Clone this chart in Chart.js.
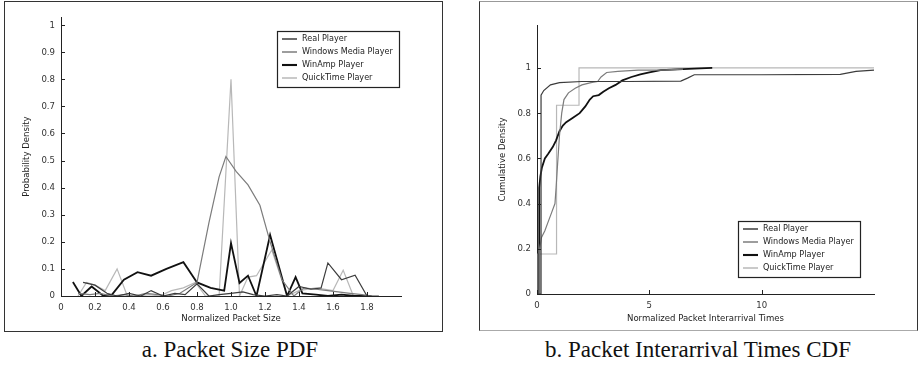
<!DOCTYPE html>
<html>
<head>
<meta charset="utf-8">
<script src="https://cdn.jsdelivr.net/npm/chart.js@4.4.0/dist/chart.umd.min.js"></script>
<style>
  body { margin: 0; width: 918px; height: 367px; background: #fff; position: relative; overflow: hidden; }
  .panel { position: absolute; box-sizing: border-box; background: #fff; }
  #boxA { left: 4px; top: 1px; width: 439px; height: 331px; border: 1.5px solid #333; }
  #boxB { left: 479px; top: 1px; width: 439px; height: 330px; border: 1.5px solid #333; border-top-color: #999; border-bottom-color: #aaa; }
  canvas { position: absolute; left: 0; top: 0; }
  .caption { position: absolute; top: 337px; font-family: "Liberation Serif", "Times New Roman", serif; font-size: 23px; color: #111; white-space: nowrap; transform: translateX(-50%); }
</style>
</head>
<body>
<div class="panel" id="boxA"><canvas id="pdf" width="436" height="328"></canvas></div>
<div class="panel" id="boxB"><canvas id="cdf" width="436" height="327"></canvas></div>
<div class="caption" style="left:230px">a. Packet Size PDF</div>
<div class="caption" style="left:698px">b. Packet Interarrival Times CDF</div>

<script>
const players = ['Real Player', 'Windows Media Player', 'WinAmp Player', 'QuickTime Player'];

// a. packet size PDF
const realSizeX = [0.13, 0.2, 0.27, 0.33, 0.4, 0.47, 0.53, 0.6, 0.67, 0.73, 0.8, 0.87, 0.93, 1.0, 1.07, 1.13, 1.2, 1.27, 1.33, 1.4, 1.47, 1.53, 1.57, 1.65, 1.73, 1.8, 1.87];
const realSizeY = [0.05, 0.04, 0.01, 0, 0.01, 0, 0.02, 0, 0.01, 0.005, 0.045, 0, 0.005, 0.01, 0.015, 0.005, 0, 0.005, 0, 0.035, 0.025, 0.03, 0.122, 0.06, 0.077, 0, 0];
const wmpSizeX = [0.1, 0.17, 0.23, 0.3, 0.37, 0.43, 0.5, 0.57, 0.63, 0.7, 0.8, 0.87, 0.93, 0.97, 1.03, 1.1, 1.17, 1.23, 1.3, 1.37, 1.43, 1.5, 1.57, 1.63, 1.7, 1.77, 1.83];
const wmpSizeY = [0.01, 0.005, 0.01, 0, 0.005, 0, 0.01, 0.005, 0, 0.01, 0.05, 0.27, 0.44, 0.515, 0.46, 0.41, 0.335, 0.2, 0.06, 0, 0.03, 0.025, 0.02, 0.015, 0.01, 0.005, 0];
const winampSizeX = [0.07, 0.12, 0.18, 0.25, 0.3, 0.37, 0.45, 0.53, 0.62, 0.72, 0.8, 0.88, 0.96, 1.0, 1.05, 1.1, 1.15, 1.23, 1.33, 1.38, 1.42, 1.5, 1.57, 1.65, 1.73, 1.82];
const winampSizeY = [0.052, 0, 0.035, 0, 0.005, 0.06, 0.088, 0.075, 0.1, 0.125, 0.05, 0.03, 0.02, 0.195, 0.048, 0.075, 0, 0.225, 0, 0.07, 0.01, 0.005, 0, 0.005, 0, 0];
const qtSizeX = [0.1, 0.15, 0.2, 0.26, 0.33, 0.39, 0.45, 0.52, 0.58, 0.65, 0.72, 0.79, 0.85, 0.93, 1.0, 1.05, 1.1, 1.15, 1.24, 1.33, 1.4, 1.5, 1.6, 1.66, 1.72, 1.8];
const qtSizeY = [0, 0.05, 0.04, 0.02, 0.1, 0, 0, 0.005, 0, 0.02, 0.03, 0.05, 0, 0, 0.8, 0, 0.07, 0.075, 0.17, 0, 0.02, 0.03, 0.02, 0.095, 0, 0];
const sizeXTicks = [0, 0.2, 0.4, 0.6, 0.8, 1, 1.2, 1.4, 1.6, 1.8];
const sizeYTicks = [0, 0.1, 0.2, 0.3, 0.4, 0.5, 0.6, 0.7, 0.8, 0.9, 1];

// b. interarrival CDF
const realTimeX = [0, 0.18, 0.18, 0.3, 0.6, 1.0, 2.0, 4.0, 6.4, 6.7, 7.0, 10, 13.5, 14.2, 15];
const realTimeY = [0, 0, 0.88, 0.9, 0.925, 0.935, 0.94, 0.94, 0.942, 0.955, 0.97, 0.97, 0.972, 0.985, 0.99];
const wmpTimeX = [0.1, 0.12, 0.2, 0.35, 0.5, 0.65, 0.8, 0.85, 0.9, 1.0, 1.1, 1.2, 1.4, 1.7, 2.0, 2.4, 2.7, 2.85, 3.1, 3.6, 4.5, 5.5, 6.5];
const wmpTimeY = [0, 0.2, 0.25, 0.28, 0.32, 0.36, 0.4, 0.47, 0.55, 0.7, 0.8, 0.86, 0.89, 0.91, 0.925, 0.935, 0.94, 0.96, 0.98, 0.985, 0.99, 0.99, 0.995];
const winampTimeX = [0.1, 0.1, 0.15, 0.22, 0.35, 0.5, 0.7, 0.85, 1.0, 1.15, 1.3, 1.6, 1.9, 2.15, 2.35, 2.5, 2.75, 2.95, 3.2, 3.5, 3.8, 4.2, 4.6, 5.0, 5.5, 6.0, 7.0, 7.8];
const winampTimeY = [0, 0.47, 0.52, 0.56, 0.6, 0.62, 0.65, 0.68, 0.72, 0.745, 0.76, 0.78, 0.8, 0.83, 0.86, 0.875, 0.88, 0.895, 0.91, 0.925, 0.945, 0.96, 0.972, 0.98, 0.99, 0.993, 0.997, 1.0];
const qtTimeX = [0.05, 0.05, 0.87, 0.87, 1.87, 1.87, 15];
const qtTimeY = [0, 0.177, 0.177, 0.835, 0.835, 1.0, 1.0];
const timeXTicks = [0, 5, 10];
const timeYTicks = [0, 0.2, 0.4, 0.6, 0.8, 1];

const lineColors = ['#3c3c3c', '#7c7c7c', '#111111', '#b8b8b8'];
const lineWidths = [1.2, 1.2, 1.8, 1.2];
const fontFamily = "'DejaVu Sans Condensed', 'Liberation Sans', sans-serif";
const labelFont = { family: fontFamily, size: 9.5 };
const legendFont = { family: fontFamily, size: 9 };

function points(xs, ys) {
  return xs.map((x, i) => ({ x: x, y: ys[i] }));
}

function makeDatasets(series) {
  return series.map((s, i) => ({
    label: players[i],
    data: points(s[0], s[1]),
    showLine: true,
    borderColor: lineColors[i],
    backgroundColor: lineColors[i],
    borderWidth: lineWidths[i],
    pointRadius: 0,
    tension: 0,
    fill: false
  }));
}

// MATLAB-like inward ticks + boxed legend
const matlabBits = {
  id: 'matlabBits',
  afterDraw(chart, args, opts) {
    const ctx = chart.ctx;
    const area = chart.chartArea;
    const xs = chart.scales.x, ys = chart.scales.y;
    ctx.save();
    ctx.strokeStyle = '#222';
    ctx.lineWidth = 1;
    ctx.beginPath();
    xs.ticks.forEach(t => {
      const px = Math.round(xs.getPixelForValue(t.value)) + 0.5;
      ctx.moveTo(px, area.bottom);
      ctx.lineTo(px, area.bottom - 4);
    });
    ys.ticks.forEach(t => {
      const py = Math.round(ys.getPixelForValue(t.value)) + 0.5;
      ctx.moveTo(area.left, py);
      ctx.lineTo(area.left + 4, py);
    });
    ctx.stroke();

    const w = 122, h = 56;
    const left = area.right - opts.right - w;
    const top = opts.fromBottom ? area.bottom - opts.bottom - h : area.top + opts.top;
    ctx.fillStyle = '#fff';
    ctx.fillRect(left, top, w, h);
    ctx.strokeStyle = '#222';
    ctx.lineWidth = 1.2;
    ctx.strokeRect(left + 0.5, top + 0.5, w, h);
    ctx.font = legendFont.size + 'px ' + legendFont.family;
    ctx.textBaseline = 'middle';
    chart.data.datasets.forEach((ds, i) => {
      const y = top + 8 + i * 13;
      ctx.strokeStyle = ds.borderColor;
      ctx.lineWidth = ds.borderWidth + 0.3;
      ctx.beginPath();
      ctx.moveTo(left + 5, y);
      ctx.lineTo(left + 20, y);
      ctx.stroke();
      ctx.fillStyle = '#222';
      ctx.fillText(ds.label, left + 25, y);
    });
    ctx.restore();
  }
};

function makeChart(id, datasets, cfg) {
  return new Chart(document.getElementById(id), {
    type: 'scatter',
    data: { datasets: datasets },
    plugins: [matlabBits],
    options: {
      responsive: false,
      animation: false,
      layout: { padding: { left: 0, right: cfg.padRight, top: cfg.padTop, bottom: 0 } },
      plugins: {
        legend: { display: false },
        tooltip: { enabled: false },
        matlabBits: cfg.legend
      },
      scales: {
        x: {
          type: 'linear',
          min: 0,
          max: cfg.xMax,
          afterFit: s => { s.height = cfg.xHeight; },
          afterBuildTicks: s => { s.ticks = cfg.xTicks.map(v => ({ value: v })); },
          grid: { display: false, drawTicks: false },
          border: { display: true, color: '#222', width: 1 },
          ticks: { color: '#333', font: labelFont, padding: 6, maxRotation: 0, autoSkip: false },
          title: { display: true, text: cfg.xTitle, color: '#222', font: labelFont, padding: { top: 0, bottom: cfg.xTitlePad } }
        },
        y: {
          type: 'linear',
          min: 0,
          max: cfg.yMax,
          afterFit: s => { s.width = cfg.yWidth; },
          afterBuildTicks: s => { s.ticks = cfg.yTicks.map(v => ({ value: v })); },
          grid: { display: false, drawTicks: false },
          border: { display: true, color: '#222', width: 1 },
          ticks: { color: '#333', font: labelFont, padding: 6, autoSkip: false, callback: v => String(v) },
          title: { display: true, text: cfg.yTitle, color: '#222', font: labelFont, padding: { top: cfg.yTitlePad, bottom: 0 } }
        }
      }
    }
  });
}

makeChart('pdf', makeDatasets([
  [realSizeX, realSizeY], [wmpSizeX, wmpSizeY], [winampSizeX, winampSizeY], [qtSizeX, qtSizeY]
]), {
  xMax: 2, yMax: 1.03, xTicks: sizeXTicks, yTicks: sizeYTicks,
  padRight: 40, padTop: 15, xHeight: 34, yWidth: 56,
  xTitle: 'Normalized Packet Size', yTitle: 'Probability Density',
  xTitlePad: 6, yTitlePad: 16,
  legend: { right: 2, top: 14, fromBottom: false }
});

makeChart('cdf', makeDatasets([
  [realTimeX, realTimeY], [wmpTimeX, wmpTimeY], [winampTimeX, winampTimeY], [qtTimeX, qtTimeY]
]), {
  xMax: 15, yMax: 1.19, xTicks: timeXTicks, yTicks: timeYTicks,
  padRight: 42, padTop: 23, xHeight: 35, yWidth: 57,
  xTitle: 'Normalized Packet Interarrival Times', yTitle: 'Cumulative Density',
  xTitlePad: 5, yTitlePad: 17,
  legend: { right: 14, bottom: 17, fromBottom: true }
});
</script>
</body>
</html>
